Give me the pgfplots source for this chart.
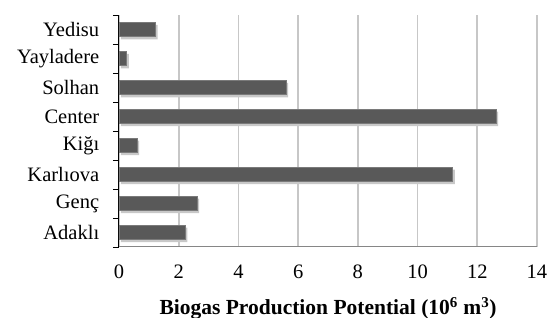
\documentclass[border=0pt]{standalone}
\usepackage{fontspec}
\setmainfont{Liberation Serif}
\usepackage{pgfplots}
\pgfplotsset{compat=1.18}
\definecolor{barfill}{HTML}{595959}
\definecolor{baredge}{HTML}{7A7A7A}
\definecolor{shadowc}{HTML}{C8C8C8}
\definecolor{xaxisc}{HTML}{868686}
\begin{document}
\begin{tikzpicture}
\begin{axis}[
  name=ax,
  scale only axis,
  width=418pt, height=232pt,
  xbar, bar width=14.5pt,
  xmin=0, xmax=14,
  ymin=0.5, ymax=8.5,
  xtick={0,2,...,14},
  ytick={1,...,8},
  yticklabels={Adaklı,Genç,Karlıova,Kiğı,Center,Solhan,Yayladere,Yedisu},
  axis x line*=bottom,
  axis y line*=left,
  x axis line style={draw=xaxisc, line width=1pt, -},
  y axis line style={draw=black, line width=1pt, -},
  xtick style={draw=none},
  major y tick style={draw=none},
  xmajorgrids=true,
  ymajorgrids=false,
  major x grid style={draw=black!22, line width=1.6pt},
  tick label style={font=\fontsize{20.5}{24}\selectfont},
  xticklabel style={yshift=-14pt},
  yticklabel style={xshift=-12pt},
  /pgf/number format/assume math mode=true,
  xlabel={\textbf{Biogas Production Potential (10\textsuperscript{6} m\textsuperscript{3})}},
  xlabel style={font=\fontsize{21.5}{24}\selectfont, yshift=-12pt},
  clip=false,
]
\addplot[draw=none, fill=shadowc, bar shift=0pt, xshift=2pt, yshift=-2.5pt, forget plot]
  coordinates {(2.22,1) (2.62,2) (11.18,3) (0.61,4) (12.63,5) (5.60,6) (0.26,7) (1.23,8)};
\addplot[draw=baredge, line width=0.8pt, fill=barfill, bar shift=0pt]
  coordinates {(2.22,1) (2.62,2) (11.18,3) (0.61,4) (12.63,5) (5.60,6) (0.26,7) (1.23,8)};
\pgfplotsinvokeforeach{0.5,1.5,2.5,3.5,4.5,5.5,6.5,7.5,8.5}{
  \draw[black, line width=0.8pt] ([xshift=-6pt]axis cs:0,#1) -- (axis cs:0,#1);
}
\end{axis}
\pgfresetboundingbox
\path[use as bounding box] ([xshift=-119pt,yshift=-71pt]ax.south west) rectangle ([xshift=15pt,yshift=15pt]ax.north east);
\end{tikzpicture}
\end{document}
